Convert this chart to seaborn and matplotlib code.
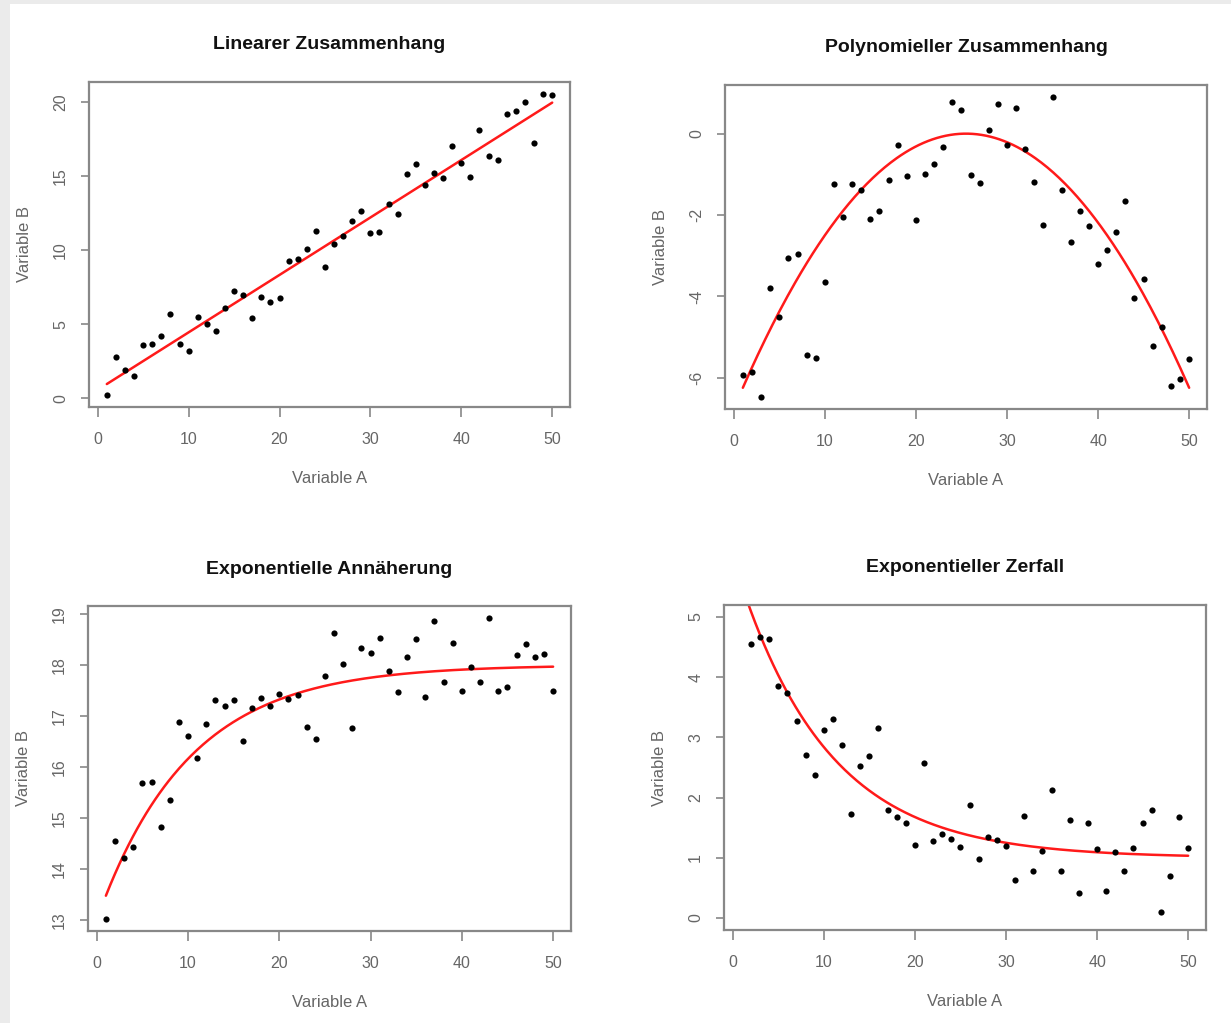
import numpy as np
import pandas as pd
import matplotlib
matplotlib.use("Agg")
import matplotlib.pyplot as plt
from matplotlib.patches import Rectangle
import seaborn as sns

# ---------------- data ----------------
var_a = list(range(1, 51))

lin_b = [0.23, 2.80, 1.94, 1.50, 3.60, 3.68, 4.23, 5.72, 3.68, 3.19,
         5.49, 5.04, 4.54, 6.12, 7.25, 6.96, 5.45, 6.85, 6.53, 6.78,
         9.31, 9.42, 10.12, 11.28, 8.90, 10.40, 11.00, 11.95, 12.63, 11.20,
         11.25, 13.10, 12.43, 15.14, 15.82, 14.40, 15.20, 14.87, 17.04, 15.89,
         14.98, 18.12, 16.36, 16.09, 19.21, 19.43, 20.02, 17.27, 20.56, 20.50]

poly_b = [-5.92, -5.85, -6.47, -3.79, -4.51, -3.05, -2.96, -5.45, -5.50, -3.64,
          -1.24, -2.04, -1.24, -1.38, -2.10, -1.90, -1.14, -0.29, -1.04, -2.12,
          -0.98, -0.75, -0.33, 0.77, 0.57, -1.02, -1.22, 0.08, 0.74, -0.28,
          0.64, -0.38, -1.19, -2.24, 0.90, -1.39, -2.67, -1.90, -2.27, -3.20,
          -2.86, -2.42, -1.66, -4.03, -3.58, -5.22, -4.74, -6.21, -6.02, -5.53]

appr_b = [13.02, 14.55, 14.22, 14.44, 15.68, 15.70, 14.82, 15.36, 16.88, 16.60,
          16.17, 16.84, 17.31, 17.19, 17.31, 16.50, 17.15, 17.35, 17.19, 17.43,
          17.33, 17.41, 16.78, 16.54, 17.78, 18.63, 18.02, 16.76, 18.33, 18.24,
          18.53, 17.88, 17.47, 18.16, 18.51, 17.37, 18.86, 17.66, 18.44, 17.49,
          17.96, 17.66, 18.92, 17.49, 17.56, 18.19, 18.42, 18.16, 18.22, 17.49]

decay_b = [5.50, 4.56, 4.67, 4.64, 3.86, 3.74, 3.28, 2.71, 2.37, 3.13,
           3.30, 2.88, 1.72, 2.52, 2.69, 3.16, 1.80, 1.67, 1.58, 1.22,
           2.57, 1.28, 1.40, 1.31, 1.18, 1.87, 0.98, 1.34, 1.29, 1.20,
           0.63, 1.70, 0.78, 1.12, 2.13, 0.78, 1.62, 0.42, 1.57, 1.14,
           0.45, 1.10, 0.78, 1.16, 1.57, 1.80, 0.10, 0.70, 1.67, 1.17]

# fitted-curve parameters
lin_curve = [0.388, 0.58]                 # slope, intercept
poly_curve = [-0.0104, 0.5304, -6.763]    # quadratic coefficients
appr_curve = [18.0, -5.0, 0.1]            # a + b * exp(-k x)
decay_curve = [1.0, 5.0, 0.1]             # a + b * exp(-k x)

titles = ["Linearer Zusammenhang", "Polynomieller Zusammenhang",
          "Exponentielle Annäherung", "Exponentieller Zerfall"]
x_label = "Variable A"
y_label = "Variable B"
x_ticks = [0, 10, 20, 30, 40, 50]
y_ticks = [[0, 5, 10, 15, 20], [-6, -4, -2, 0],
           [13, 14, 15, 16, 17, 18, 19], [0, 1, 2, 3, 4, 5]]

# ---------------- curves ----------------
x = np.asarray(var_a, dtype=float)
xs = np.linspace(x.min(), x.max(), 300)


def exp_curve(p, t):
    return p[0] + p[1] * np.exp(-p[2] * t)


fits = [
    np.polyval(lin_curve, xs),
    np.polyval(poly_curve, xs),
    exp_curve(appr_curve, xs),
    exp_curve(decay_curve, xs),
]
series = [lin_b, poly_b, appr_b, decay_b]

# ---------------- style ----------------
sns.set_theme(style="white")
plt.rcParams["font.family"] = ["Liberation Sans", "DejaVu Sans"]

GRAY_TXT = "#666666"
GRAY_AX = "#888888"

fig = plt.figure(figsize=(12.31, 10.23), dpi=100)
fig.patch.set_facecolor("white")
W, H = 1231, 1023
# light gray frame strips (left and top)
fig.patches.append(Rectangle((0, 0), 10 / W, 1, transform=fig.transFigure,
                             facecolor="#ebebeb", edgecolor="none"))
fig.patches.append(Rectangle((0, 1 - 4 / H), 1, 4 / H, transform=fig.transFigure,
                             facecolor="#ebebeb", edgecolor="none"))

# axes boxes in pixels: left, top, right, bottom
boxes = [(89, 82, 570, 407), (725, 85, 1207, 409),
         (88, 606, 571, 931), (724, 605, 1206, 930)]

for i, (l, t, r, b) in enumerate(boxes):
    ax = fig.add_axes([l / W, 1 - b / H, (r - l) / W, (b - t) / H])
    ax.set_facecolor("white")
    df = pd.DataFrame({"A": var_a, "B": series[i]})
    sns.scatterplot(data=df, x="A", y="B", ax=ax, color="black", s=20,
                    linewidth=0, zorder=3)
    sns.lineplot(x=xs, y=fits[i], ax=ax, color="#ff1a1a", linewidth=1.8,
                 zorder=2)

    ax.set_xlim(1 - 0.04 * 49, 50 + 0.04 * 49)
    if i == 3:
        ax.set_ylim(0 - 0.04 * 5, 5 + 0.04 * 5)
    else:
        lo, hi = min(series[i]), max(series[i])
        rg = hi - lo
        ax.set_ylim(lo - 0.04 * rg, hi + 0.04 * rg)

    ax.set_xticks(x_ticks)
    ax.set_yticks(y_ticks[i])
    ax.set_xticklabels([str(v) for v in x_ticks])
    ax.set_yticklabels([str(v) for v in y_ticks[i]], rotation=90, va="center")
    ax.tick_params(axis="x", direction="out", length=7, width=1.2,
                   color=GRAY_AX, labelcolor=GRAY_TXT, labelsize=11.5, pad=11,
                   bottom=True)
    ax.tick_params(axis="y", direction="out", length=6, width=1.2,
                   color=GRAY_AX, labelcolor=GRAY_TXT, labelsize=11.5, pad=9,
                   left=True)
    for sp in ax.spines.values():
        sp.set_visible(True)
        sp.set_color(GRAY_AX)
        sp.set_linewidth(1.6)

    ax.set_xlabel(x_label, color=GRAY_TXT, fontsize=12, labelpad=17)
    ax.set_ylabel(y_label, color=GRAY_TXT, fontsize=12, labelpad=15)
    ax.text(0.5, 1 + 37 / (b - t), titles[i], transform=ax.transAxes,
            ha="center", va="center", fontsize=14, fontweight="bold",
            color="#111111")

fig.savefig("out.png", dpi=100, facecolor=fig.get_facecolor())
